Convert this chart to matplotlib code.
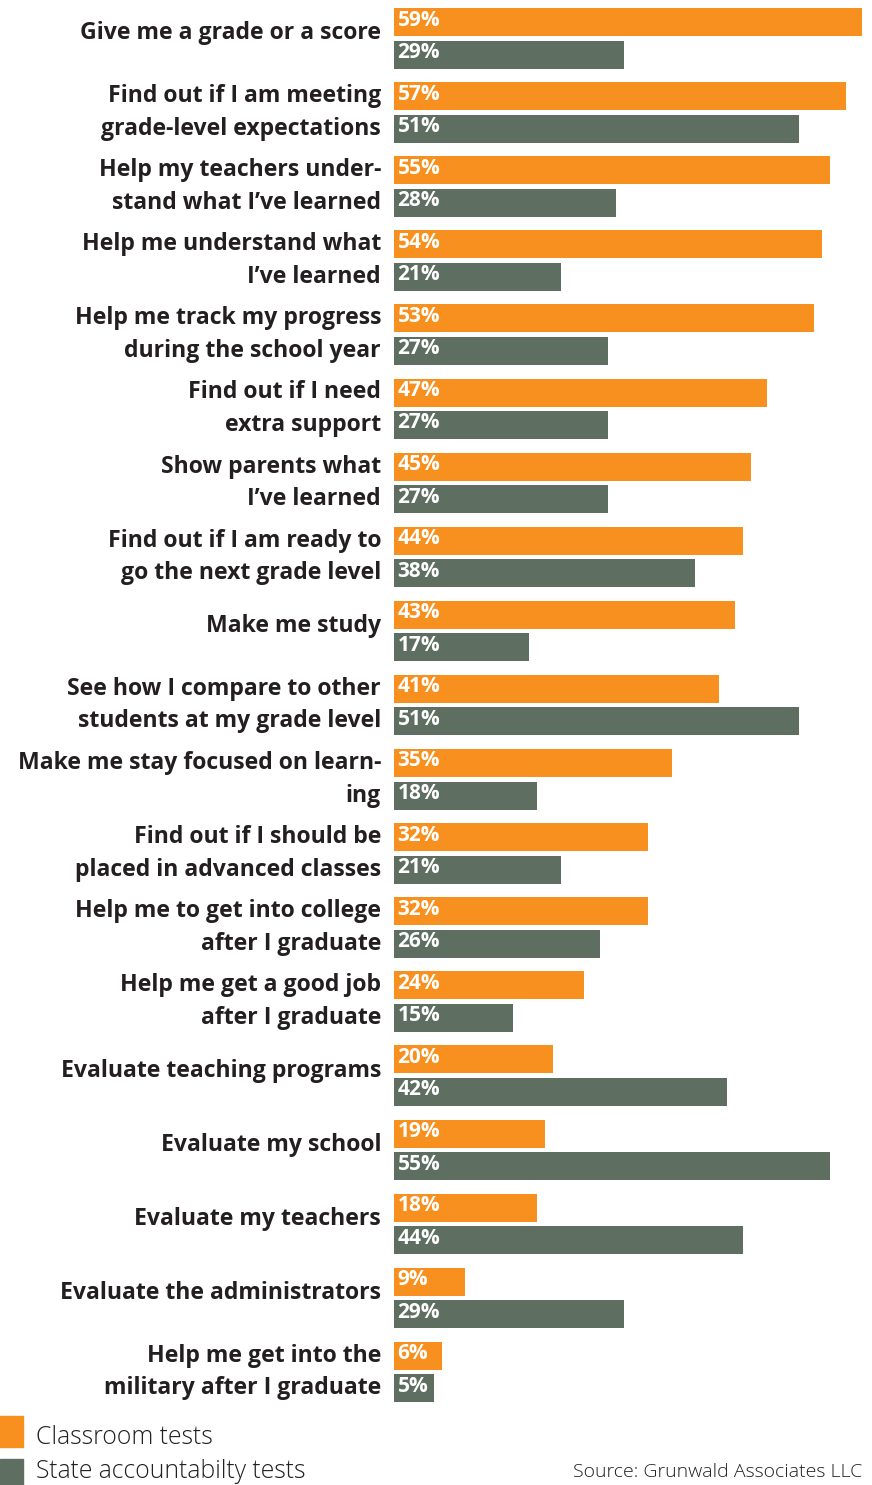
import matplotlib.pyplot as plt
from matplotlib.patches import Rectangle

labels = [
    "Give me a grade or a score",
    "Find out if I am meeting\ngrade-level expectations",
    "Help my teachers under-\nstand what I’ve learned",
    "Help me understand what\nI’ve learned",
    "Help me track my progress\nduring the school year",
    "Find out if I need\nextra support",
    "Show parents what\nI’ve learned",
    "Find out if I am ready to\ngo the next grade level",
    "Make me study",
    "See how I compare to other\nstudents at my grade level",
    "Make me stay focused on learn-\ning",
    "Find out if I should be\nplaced in advanced classes",
    "Help me to get into college\nafter I graduate",
    "Help me get a good job\nafter I graduate",
    "Evaluate teaching programs",
    "Evaluate my school",
    "Evaluate my teachers",
    "Evaluate the administrators",
    "Help me get into the\nmilitary after I graduate",
]
classroom = [59, 57, 55, 54, 53, 47, 45, 44, 43, 41, 35, 32, 32, 24, 20, 19, 18, 9, 6]
state = [29, 51, 28, 21, 27, 27, 27, 38, 17, 51, 18, 21, 26, 15, 42, 55, 44, 29, 5]
series_names = ["Classroom tests", "State accountabilty tests"]

ORANGE = "#F7901E"
GRAY = "#5E6E60"
TEXT = "#231F20"
FONT = "Open Sans"

W, H = 872, 1485
fig = plt.figure(figsize=(W / 100, H / 100), dpi=100)
# y axis in pixel rows so rows line up with the label column
ax = fig.add_axes([394 / W, 0, 468 / W, 1])
ax.set_xlim(0, 59)
ax.set_ylim(H, 0)
ax.axis("off")


def fy(y):
    return 1 - y / H


pitch = 74.1
bar_h = 28
for i, (lab, a, b) in enumerate(zip(labels, classroom, state)):
    y1 = 22 + i * pitch
    y2 = y1 + 32.5
    ax.barh(y1, a, height=bar_h, color=ORANGE, left=0)
    ax.barh(y2, b, height=bar_h, color=GRAY, left=0)
    for val, yy in ((a, y1), (b, y2)):
        ax.text(0.45, yy - 2, f"{val}%", color="white", fontsize=15,
                fontweight="bold", family=FONT, va="center", ha="left")

    lines = lab.split("\n")
    tx = 381 / W
    if len(lines) == 2:
        for line, yy in zip(lines, (y1, y2)):
            fig.text(tx, fy(yy), line, ha="right", va="center",
                     fontsize=16.6, fontweight="bold", family=FONT, color=TEXT)
    else:
        ym = (y1 + y2) / 2 - 5
        fig.text(tx, fy(ym), lines[0], ha="right", va="center",
                 fontsize=16.6, fontweight="bold", family=FONT, color=TEXT)

# legend
for (y0, ty, col), name in zip([(1416, 1437, ORANGE), (1459, 1471, GRAY)], series_names):
    fig.patches.append(Rectangle((0, fy(y0 + 31)), 23 / W, 31 / H,
                                 transform=fig.transFigure, color=col))
    fig.text(36 / W, fy(ty), name, ha="left", va="center",
             fontsize=17.8, fontweight="light", family=FONT, color=TEXT)

fig.text(862 / W, fy(1472), "Source: Grunwald Associates LLC", ha="right",
         va="center", fontsize=14, fontweight="light", family=FONT, color=TEXT)

fig.savefig("out.png", dpi=100)
